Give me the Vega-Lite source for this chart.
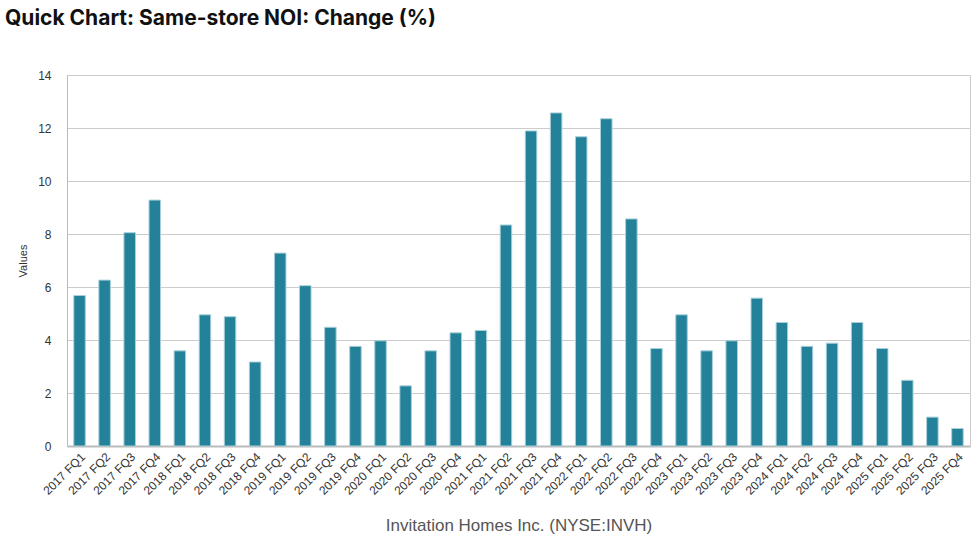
{
  "$schema": "https://vega.github.io/schema/vega-lite/v6.json",
  "autosize": {"type": "none"},
  "width": 903,
  "height": 371,
  "padding": {"left": 67, "top": 75, "right": 6, "bottom": 113},
  "background": "white",
  "title": {
    "text": "Quick Chart: Same-store NOI: Change (%)",
    "anchor": "start",
    "frame": "group",
    "dx": -62,
    "offset": 40,
    "font": "Inter",
    "fontSize": 21,
    "fontWeight": "bold",
    "color": "#111111"
  },
  "data": {
    "values": [
      {"q": "2017 FQ1", "v": 5.68},
      {"q": "2017 FQ2", "v": 6.26},
      {"q": "2017 FQ3", "v": 8.05},
      {"q": "2017 FQ4", "v": 9.28},
      {"q": "2018 FQ1", "v": 3.59},
      {"q": "2018 FQ2", "v": 4.95},
      {"q": "2018 FQ3", "v": 4.88},
      {"q": "2018 FQ4", "v": 3.17},
      {"q": "2019 FQ1", "v": 7.28},
      {"q": "2019 FQ2", "v": 6.05},
      {"q": "2019 FQ3", "v": 4.48},
      {"q": "2019 FQ4", "v": 3.76},
      {"q": "2020 FQ1", "v": 3.97},
      {"q": "2020 FQ2", "v": 2.27},
      {"q": "2020 FQ3", "v": 3.59},
      {"q": "2020 FQ4", "v": 4.27},
      {"q": "2021 FQ1", "v": 4.36},
      {"q": "2021 FQ2", "v": 8.34},
      {"q": "2021 FQ3", "v": 11.89},
      {"q": "2021 FQ4", "v": 12.57},
      {"q": "2022 FQ1", "v": 11.67},
      {"q": "2022 FQ2", "v": 12.35},
      {"q": "2022 FQ3", "v": 8.57},
      {"q": "2022 FQ4", "v": 3.68},
      {"q": "2023 FQ1", "v": 4.95},
      {"q": "2023 FQ2", "v": 3.59},
      {"q": "2023 FQ3", "v": 3.97},
      {"q": "2023 FQ4", "v": 5.58},
      {"q": "2024 FQ1", "v": 4.66},
      {"q": "2024 FQ2", "v": 3.76},
      {"q": "2024 FQ3", "v": 3.88},
      {"q": "2024 FQ4", "v": 4.66},
      {"q": "2025 FQ1", "v": 3.68},
      {"q": "2025 FQ2", "v": 2.48},
      {"q": "2025 FQ3", "v": 1.09},
      {"q": "2025 FQ4", "v": 0.66}
    ]
  },
  "mark": {"type": "bar", "color": "#23829A", "stroke": "#a9d0da", "strokeWidth": 1},
  "encoding": {
    "x": {
      "field": "q",
      "type": "ordinal",
      "sort": null,
      "scale": {"paddingInner": 0.54, "paddingOuter": 0.27},
      "axis": {
        "title": "Invitation Homes Inc. (NYSE:INVH)",
        "titleFont": "Liberation Sans",
        "titleFontSize": 17,
        "titleFontWeight": "normal",
        "titleColor": "#555555",
        "titlePadding": 21,
        "labelAngle": -45,
        "labelFont": "Liberation Sans",
        "labelFontSize": 12,
        "labelColor": "#333333",
        "labelPadding": 5,
        "ticks": false,
        "domainColor": "#bbbbbb",
        "domainWidth": 2
      }
    },
    "y": {
      "field": "v",
      "type": "quantitative",
      "scale": {"domain": [0, 14], "nice": false},
      "axis": {
        "title": "Values",
        "titleFont": "Liberation Sans",
        "titleFontSize": 11,
        "titleFontWeight": "normal",
        "titleColor": "#333333",
        "titlePadding": 9,
        "values": [0, 2, 4, 6, 8, 10, 12, 14],
        "labelFont": "Liberation Sans",
        "labelFontSize": 12,
        "labelColor": "#333333",
        "labelPadding": 16,
        "ticks": false,
        "domainColor": "#bbbbbb",
        "gridColor": "#cccccc",
        "gridWidth": 1
      }
    }
  },
  "config": {
    "view": {"stroke": "#cccccc", "strokeWidth": 1}
  }
}
